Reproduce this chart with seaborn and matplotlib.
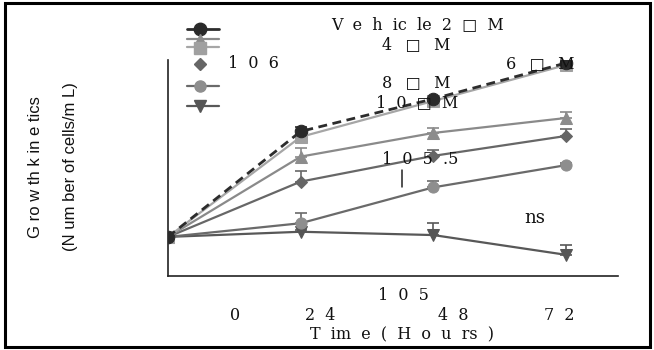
import numpy as np
import pandas as pd
import matplotlib
matplotlib.use("Agg")
import matplotlib.pyplot as plt
import seaborn as sns
from matplotlib.lines import Line2D
from matplotlib.patches import Rectangle
from matplotlib.ticker import FixedLocator, MultipleLocator, LogLocator, NullFormatter

# ---------------- data ----------------
hours = [0, 24, 48, 72]
groups = ["Vehicle", "2 µM", "4 µM", "6 µM", "8 µM", "10 µM"]

vehicle = [2.22e4, 2.15e5, 4.33e5, 9.38e5]
um2 = [2.22e4, 1.91e5, 4.14e5, 8.98e5]
um4 = [2.22e4, 1.25e5, 2.08e5, 2.87e5]
um6 = [2.22e4, 7.3e4, 1.27e5, 1.95e5]
um8 = [2.22e4, 2.98e4, 6.45e4, 1.04e5]
um10 = [2.22e4, 2.48e4, 2.31e4, 1.51e4]

# upper ends of the (one-sided) error bars
vehicle_hi = [2.22e4, 2.35e5, 4.6e5, 1.0e6]
um2_hi = [2.22e4, 2.0e5, 4.3e5, 9.3e5]
um4_hi = [2.22e4, 1.51e5, 2.31e5, 3.29e5]
um6_hi = [2.22e4, 9.2e4, 1.44e5, 2.26e5]
um8_hi = [2.22e4, 3.72e4, 7.4e4, 1.08e5]
um10_hi = [2.22e4, 2.55e4, 3.0e4, 1.87e4]

values = dict(zip(groups, [vehicle, um2, um4, um6, um8, um10]))
uppers = dict(zip(groups, [vehicle_hi, um2_hi, um4_hi, um6_hi, um8_hi, um10_hi]))

FS = "\u2007"          # figure space used as the wide letter gap of the original
FT = "\u2007\u2009"
legend_texts = [FS.join(["V", "e", "h", "ic", "le", "2", "\u25a1", "M"]),
                FT.join(["4", "\u25a1", "M"]),
                FT.join(["6", "\u25a1", "M"]),
                FT.join(["8", "\u25a1", "M"]),
                FS.join(["1", "0", "\u25a1", "M"])]
xtick_texts = ["0", FS.join(["2", "4"]), FS.join(["4", "8"]), FS.join(["7", "2"])]
xlabel_text = FS.join(["T", "im", "e", "(", "H", "o", "u", "rs", ")"])
stray_texts = [FS.join(["1", "0", "6"]), FS.join(["1", "0", "5", ".5"]), FS.join(["1", "0", "5"]), "ns"]
ylabel_lines = ["G ro w th k in e tics", "(N um ber of cells/m L)"]

# ---------------- styles ----------------
line_colors = {"Vehicle": "#2c2c2c", "2 µM": "#a6a6a6", "4 µM": "#8a8a8a",
               "6 µM": "#676767", "8 µM": "#6a6a6a", "10 µM": "#585858"}
marker_colors = {"Vehicle": "#2a2a2a", "2 µM": "#a0a0a0", "4 µM": "#8c8c8c",
                 "6 µM": "#666666", "8 µM": "#8e8e8e", "10 µM": "#555555"}
markers = {"Vehicle": "o", "2 µM": "s", "4 µM": "^", "6 µM": "D", "8 µM": "o", "10 µM": "v"}
msizes = {"Vehicle": 9, "2 µM": 8, "4 µM": 9, "6 µM": 6.5, "8 µM": 8, "10 µM": 9}
lwidths = {"Vehicle": 2.0, "2 µM": 1.6, "4 µM": 1.6, "6 µM": 1.6, "8 µM": 1.6, "10 µM": 1.6}
dashes = {g: "" for g in groups}
dashes["Vehicle"] = (3.2, 2.0)

df = pd.DataFrame([(h, v, g) for g in groups for h, v in zip(hours, values[g])],
                  columns=["hours", "cells", "group"])

sns.set_style("white")
serif = ["DejaVu Serif", "DejaVu Sans"]
sans = ["Liberation Sans", "DejaVu Sans"]
plt.rcParams["font.family"] = serif

W, H = 654, 350
fig = plt.figure(figsize=(W / 100, H / 100), dpi=100)
ax = fig.add_axes([168 / W, 1 - 276 / H, 450 / W, 216 / H])

order = ["10 µM", "8 µM", "6 µM", "4 µM", "2 µM", "Vehicle"]
sns.lineplot(data=df, x="hours", y="cells", hue="group", style="group",
             hue_order=order, style_order=order, palette=line_colors,
             markers=markers, dashes=dashes, linewidth=1.6, legend=False,
             errorbar=None, ax=ax)
for line, g in zip(ax.lines, order):
    line.set_markersize(msizes[g])
    line.set_linewidth(lwidths[g])
    line.set_markerfacecolor(marker_colors[g])
    line.set_markeredgecolor(marker_colors[g])
    line.set_zorder(3 if g != "Vehicle" else 4)

for g in order:
    v = np.array(values[g])
    hi = np.array(uppers[g])
    ax.errorbar(hours, v, yerr=[np.zeros_like(v), hi - v], fmt="none",
                ecolor=line_colors[g], elinewidth=1.2, capsize=4.5, capthick=1.2, zorder=2)

ax.set_yscale("log")
ax.set_ylim(9.57e3, 1.0e6)
ax.set_xlim(0, 81.4)
ax.xaxis.set_major_locator(FixedLocator([0, 24, 48, 72]))
ax.xaxis.set_minor_locator(MultipleLocator(4.8))
ax.yaxis.set_major_locator(LogLocator(base=10, numticks=10))
ax.yaxis.set_minor_locator(LogLocator(base=10, subs=np.arange(2, 10), numticks=20))
for axis in (ax.xaxis, ax.yaxis):
    axis.set_major_formatter(NullFormatter())
    axis.set_minor_formatter(NullFormatter())
ax.tick_params(axis="x", which="major", direction="out", length=5, width=1.1, color="#222")
ax.tick_params(axis="x", which="minor", direction="out", length=3.5, width=1.0, color="#222")
ax.tick_params(axis="y", which="major", direction="out", length=6, width=1.1, color="#222")
ax.tick_params(axis="y", which="minor", direction="out", length=3.5, width=1.0, color="#222")
ax.set_xlabel("")
ax.set_ylabel("")
for s in ["top", "right"]:
    ax.spines[s].set_visible(False)
for s in ["left", "bottom"]:
    ax.spines[s].set_color("#222")
    ax.spines[s].set_linewidth(1.2)
ax.patch.set_alpha(0)


def fx(px):
    return px / W


def fy(py):
    return 1 - py / H


def put(x, y, t, size=11.5, **kw):
    fig.text(fx(x), fy(y), t, family=kw.pop("family", serif), fontsize=size,
             ha="center", va="center", color="#111", **kw)


# displaced legend labels
legend_pos = [(418, 25), (416, 45), (540, 64), (416, 83), (417, 103)]
for t, (x, y) in zip(legend_texts, legend_pos):
    put(x, y, t)

# legend glyphs
leg_rows = [("Vehicle", 29, 29), ("4 µM", 39, 40), ("2 µM", 47, 48),
            ("6 µM", 64, 64), ("8 µM", 86, 86), ("10 µM", 106, 106)]
for g, ly, my in leg_rows:
    if g != "6 µM":
        fig.add_artist(Line2D([fx(187), fx(219)], [fy(ly), fy(ly)], transform=fig.transFigure,
                              color=line_colors[g], lw=lwidths[g]))
    fig.add_artist(Line2D([fx(200)], [fy(my)], transform=fig.transFigure, marker=markers[g],
                          markersize=msizes[g], color=marker_colors[g], lw=0))

# stray axis labels
put(253, 64, stray_texts[0])
put(420, 159, stray_texts[1])
fig.add_artist(Line2D([fx(402), fx(402)], [fy(170), fy(187)], transform=fig.transFigure,
                      color="#222", lw=1.1))
put(403, 295, stray_texts[2])
put(535, 218, stray_texts[3], size=13)

for t, x in zip(xtick_texts, [235, 320, 453, 559]):
    put(x, 315, t)
put(402, 335, xlabel_text)

put(36, 167, ylabel_lines[0], size=12, rotation=90, family=sans)
put(70, 167, ylabel_lines[1], size=12, rotation=90, family=sans)

fig.add_artist(Rectangle((fx(5), fy(347)), fx(645), 344 / H, transform=fig.transFigure,
                         fill=False, lw=2.2, ec="black"))

fig.savefig("out.png", dpi=100)
